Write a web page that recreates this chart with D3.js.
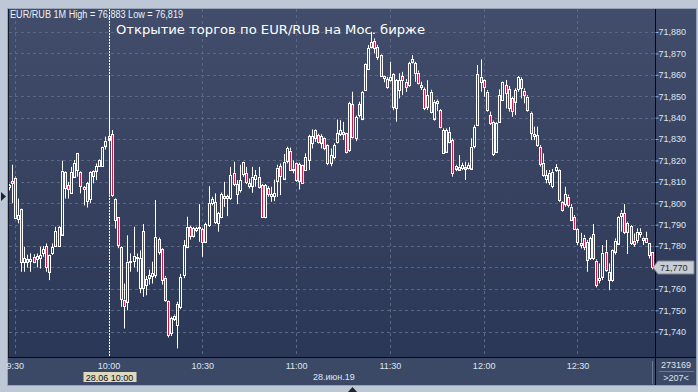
<!DOCTYPE html>
<html>
<head>
<meta charset="utf-8">
<script src="https://cdn.jsdelivr.net/npm/d3@7/dist/d3.min.js"></script>
<style>
html, body { margin: 0; padding: 0; background: #bdc7d6; }
svg { display: block; }
</style>
</head>
<body>
<svg id="chart" width="698" height="392"></svg>
<script>
// EUR/RUB, 1-минутные свечи, 28.06.2019 (9:28 .. 12:54)
const startTime = new Date(2019, 5, 28, 9, 28);

const opens = [
  71.8075, 71.8103, 71.812, 71.7924, 71.7973, 71.7724, 71.774, 71.773, 71.775, 71.7737,
  71.7742, 71.7766, 71.780, 71.768, 71.7768, 71.7801, 71.780, 71.7854, 71.8147, 71.8085,
  71.8049, 71.8124, 71.8233, 71.8147, 71.8074, 71.8093, 71.802, 71.8152, 71.8152, 71.8175,
  71.8174, 71.8269, 71.8295, 71.8322, 71.8022, 71.7934, 71.7797, 71.755, 71.754, 71.7725,
  71.773, 71.775, 71.7602, 71.787, 71.7618, 71.7652, 71.766, 71.7664, 71.7831, 71.7784,
  71.7653, 71.7543, 71.7392, 71.746, 71.743, 71.7516, 71.7664, 71.7797, 71.7887, 71.7848,
  71.7875, 71.7883, 71.788, 71.782, 71.7898, 71.800, 71.8004, 71.7905, 71.7934, 71.8033,
  71.8022, 71.8022, 71.8142, 71.8089, 71.8061, 71.8136, 71.8142, 71.8093, 71.808, 71.8113,
  71.8124, 71.8085, 71.7934, 71.8072, 71.8033, 71.803, 71.8105, 71.8173, 71.8116, 71.8194,
  71.8245, 71.8162, 71.8186, 71.8105, 71.8178, 71.8155, 71.8201, 71.8279, 71.8342, 71.8318,
  71.8283, 71.8307, 71.8272, 71.8189, 71.8214, 71.8282, 71.8323, 71.8334, 71.8329, 71.8248,
  71.8463, 71.8303, 71.8463, 71.8396, 71.8529, 71.8625, 71.8731, 71.8759, 71.8731, 71.8692,
  71.8583, 71.8579, 71.8575, 71.8603, 71.8443, 71.8529, 71.8594, 71.8568, 71.8552, 71.8661,
  71.8653, 71.861, 71.8552, 71.8532, 71.8451, 71.8521, 71.8397, 71.8469, 71.8436, 71.8342,
  71.8241, 71.8334, 71.8295, 71.8162, 71.8158, 71.8163, 71.8163, 71.8163, 71.8163, 71.8264,
  71.8366, 71.8591, 71.8576, 71.8521, 71.8412, 71.8381, 71.8241, 71.8381, 71.8482, 71.8552,
  71.8532, 71.849, 71.8475, 71.8532, 71.8579, 71.8526, 71.8498, 71.8423, 71.8323, 71.8319,
  71.8264, 71.8189, 71.8112, 71.8143, 71.808, 71.8152, 71.8155, 71.8007, 71.7996, 71.8031,
  71.7984, 71.7937, 71.7878, 71.7816, 71.784, 71.782, 71.7742, 71.7856, 71.7732, 71.7641,
  71.7657, 71.7774, 71.768, 71.7641, 71.7774, 71.7813, 71.794, 71.7953, 71.7867, 71.7894,
  71.7825, 71.7828, 71.7856, 71.784, 71.784, 71.7816, 71.7774
];

const highs = [
  71.809, 71.818, 71.8125, 71.8022, 71.7975, 71.7797, 71.776, 71.7766, 71.7762, 71.7765,
  71.7797, 71.780, 71.7812, 71.776, 71.7812, 71.789, 71.7893, 71.8199, 71.815, 71.810,
  71.817, 71.8202, 71.8235, 71.815, 71.808, 71.810, 71.815, 71.8155, 71.8186, 71.8205,
  71.8264, 71.8311, 71.860, 71.8342, 71.8025, 71.7935, 71.780, 71.7625, 71.785, 71.7766,
  71.789, 71.7765, 71.778, 71.7903, 71.766, 71.769, 71.7727, 71.8015, 71.784, 71.779,
  71.766, 71.7545, 71.747, 71.748, 71.754, 71.767, 71.7828, 71.7937, 71.7895, 71.789,
  71.789, 71.7996, 71.7885, 71.791, 71.808, 71.803, 71.8046, 71.796, 71.805, 71.810,
  71.804, 71.817, 71.8194, 71.8108, 71.818, 71.8194, 71.817, 71.8116, 71.817, 71.8155,
  71.817, 71.809, 71.809, 71.808, 71.8077, 71.811, 71.818, 71.8186, 71.823, 71.8264,
  71.826, 71.820, 71.819, 71.819, 71.818, 71.8233, 71.832, 71.8345, 71.8345, 71.8325,
  71.8323, 71.831, 71.8275, 71.8256, 71.828, 71.8391, 71.8388, 71.838, 71.833, 71.8474,
  71.8521, 71.841, 71.8474, 71.8525, 71.8653, 71.8739, 71.8801, 71.877, 71.874, 71.8695,
  71.8596, 71.859, 71.8661, 71.8607, 71.858, 71.8607, 71.8614, 71.858, 71.8661, 71.8692,
  71.8661, 71.862, 71.8568, 71.8541, 71.8575, 71.853, 71.8482, 71.8485, 71.844, 71.835,
  71.835, 71.8355, 71.8303, 71.818, 71.8225, 71.819, 71.8194, 71.819, 71.8303, 71.8366,
  71.8646, 71.8672, 71.8579, 71.8529, 71.8428, 71.8386, 71.838, 71.8532, 71.857, 71.8576,
  71.8548, 71.8498, 71.8537, 71.8594, 71.8588, 71.8537, 71.8505, 71.8428, 71.8358, 71.8358,
  71.8272, 71.8233, 71.8155, 71.8155, 71.816, 71.8183, 71.8158, 71.801, 71.8077, 71.804,
  71.7996, 71.7945, 71.7883, 71.7862, 71.7852, 71.7828, 71.7844, 71.7903, 71.7738, 71.7719,
  71.7805, 71.7828, 71.7719, 71.7784, 71.7836, 71.794, 71.7968, 71.7996, 71.7914, 71.7898,
  71.7859, 71.7883, 71.7883, 71.7844, 71.7867, 71.7816, 71.7774
];

const lows = [
  71.806, 71.800, 71.793, 71.7906, 71.768, 71.768, 71.770, 71.768, 71.772, 71.770,
  71.7695, 71.775, 71.768, 71.7641, 71.7758, 71.7797, 71.7797, 71.785, 71.8022, 71.8022,
  71.8046, 71.812, 71.8124, 71.8046, 71.799, 71.798, 71.800, 71.8093, 71.8108, 71.817,
  71.817, 71.8251, 71.804, 71.803, 71.7882, 71.779, 71.7516, 71.7415, 71.750, 71.768,
  71.770, 71.768, 71.758, 71.7563, 71.757, 71.762, 71.7625, 71.765, 71.776, 71.762,
  71.754, 71.7373, 71.738, 71.745, 71.7322, 71.7505, 71.765, 71.779, 71.783, 71.784,
  71.7865, 71.782, 71.775, 71.7815, 71.789, 71.799, 71.7903, 71.7867, 71.793, 71.7983,
  71.794, 71.8015, 71.808, 71.7996, 71.805, 71.8124, 71.809, 71.8069, 71.8049, 71.8077,
  71.8069, 71.7935, 71.793, 71.803, 71.8007, 71.801, 71.803, 71.8038, 71.811, 71.8186,
  71.8155, 71.814, 71.810, 71.8064, 71.809, 71.8152, 71.8155, 71.8256, 71.8287, 71.8279,
  71.8256, 71.8248, 71.8178, 71.8173, 71.8205, 71.8279, 71.8314, 71.8295, 71.8233, 71.824,
  71.8303, 71.829, 71.8401, 71.8388, 71.8525, 71.8622, 71.8723, 71.870, 71.867, 71.8591,
  71.8565, 71.8535, 71.8568, 71.8435, 71.8381, 71.849, 71.8505, 71.852, 71.8544, 71.8653,
  71.8568, 71.8555, 71.8529, 71.8435, 71.8435, 71.842, 71.8386, 71.843, 71.835, 71.823,
  71.8235, 71.828, 71.8124, 71.815, 71.8152, 71.8155, 71.8109, 71.8158, 71.8155, 71.8256,
  71.8361, 71.8521, 71.8498, 71.8428, 71.8366, 71.8221, 71.8235, 71.8376, 71.8478, 71.8443,
  71.8428, 71.8404, 71.8412, 71.8521, 71.849, 71.8467, 71.8428, 71.8295, 71.8295, 71.8264,
  71.8171, 71.8124, 71.8093, 71.8085, 71.807, 71.8147, 71.8007, 71.7961, 71.7984, 71.798,
  71.7919, 71.7875, 71.7805, 71.7789, 71.7781, 71.768, 71.7735, 71.7735, 71.7607, 71.7626,
  71.7641, 71.768, 71.7594, 71.7633, 71.776, 71.781, 71.7867, 71.7856, 71.7763, 71.7805,
  71.7797, 71.7813, 71.784, 71.7805, 71.7816, 71.7742, 71.7691
];

const closes = [
  71.8085, 71.8092, 71.7934, 71.7945, 71.7724, 71.7742, 71.7725, 71.774, 71.7725, 71.7753,
  71.7758, 71.7786, 71.7703, 71.7758, 71.7794, 71.7871, 71.789, 71.8152, 71.8074, 71.8065,
  71.8147, 71.8189, 71.8152, 71.8082, 71.8063, 71.8007, 71.8147, 71.8127, 71.8174, 71.8202,
  71.8261, 71.8292, 71.8315, 71.8038, 71.7924, 71.7801, 71.7555, 71.7524, 71.7727, 71.773,
  71.7755, 71.7745, 71.7742, 71.7602, 71.7644, 71.7664, 71.7672, 71.7843, 71.777, 71.7641,
  71.755, 71.7384, 71.7462, 71.7475, 71.753, 71.7656, 71.7804, 71.789, 71.7843, 71.7885,
  71.7883, 71.7887, 71.782, 71.7903, 71.8002, 71.802, 71.7909, 71.7953, 71.8043, 71.8022,
  71.8033, 71.8131, 71.809, 71.8043, 71.8108, 71.8191, 71.810, 71.8077, 71.8124, 71.8131,
  71.8077, 71.7937, 71.8085, 71.8043, 71.8043, 71.8046, 71.8167, 71.8124, 71.8194, 71.8256,
  71.8158, 71.8155, 71.8108, 71.8183, 71.8096, 71.8217, 71.8314, 71.8314, 71.8303, 71.8283,
  71.8314, 71.8261, 71.8186, 71.8225, 71.8272, 71.8326, 71.8342, 71.8323, 71.824, 71.8469,
  71.831, 71.8401, 71.8412, 71.8521, 71.865, 71.8723, 71.8754, 71.8728, 71.8684, 71.8594,
  71.8593, 71.8541, 71.8591, 71.8448, 71.8575, 71.8575, 71.8575, 71.8544, 71.8653, 71.8674,
  71.8607, 71.8563, 71.8541, 71.8443, 71.8505, 71.8428, 71.8475, 71.8479, 71.8355, 71.8233,
  71.8342, 71.8288, 71.8143, 71.8175, 71.8171, 71.8179, 71.8171, 71.8179, 71.8264, 71.8355,
  71.8604, 71.8568, 71.8545, 71.8436, 71.8373, 71.823, 71.8376, 71.8506, 71.8568, 71.8514,
  71.8443, 71.8428, 71.8529, 71.8588, 71.8537, 71.8506, 71.8436, 71.833, 71.8314, 71.8272,
  71.8183, 71.8132, 71.8132, 71.8101, 71.8147, 71.8168, 71.8015, 71.7971, 71.8043, 71.7992,
  71.7925, 71.7883, 71.7816, 71.7805, 71.7797, 71.7735, 71.7836, 71.7742, 71.7618, 71.7649,
  71.7769, 71.7688, 71.7641, 71.7781, 71.7825, 71.7937, 71.7956, 71.7862, 71.7909, 71.7813,
  71.7809, 71.7867, 71.7867, 71.7831, 71.782, 71.7758, 71.7703
];

const priceTicks = [71.74, 71.75, 71.76, 71.77, 71.78, 71.79, 71.80, 71.81, 71.82, 71.83, 71.84, 71.85, 71.86, 71.87, 71.88];
const timeTicks = ['9:30', '10:00', '10:30', '11:00', '11:30', '12:00', '12:30'];
const cursorTime = '10:00';
const lastPrice = 71.770;
const headerText = 'EUR/RUB 1M High = 76,883 Low = 76,819';
const titleText = 'Открытие торгов по EUR/RUB на Мос. бирже';
const dateText = '28.июн.19';
const cursorText = '28.06 10:00';
const volumeText = '273169';
const barsText = '>207<';

const ChartCandles = (() => {
    const FONT = '"Liberation Sans", Arial, sans-serif';
    const svg = d3.select('#chart');

    // рамка и области
    const panel = { left: 8, top: 9, right: 696, bottom: 385 };
    const plot = { left: 9, top: 9, right: 655, bottom: 357 };

    const parseTime = d3.timeParse('%d.%m.%Y %H:%M');
    const times = closes.map((_, i) => d3.timeMinute.offset(startTime, i));
    const tickDates = timeTicks.map(t => parseTime('28.06.2019 ' + t));

    const x = d3.scaleTime().domain([times[0], times[times.length - 1]]).range([8.6, 652.4]);
    const y = d3.scaleLinear().domain([71.74, 71.88]).range([331.7, 32]);

    const ru = d3.formatLocale({ decimal: ',', thousands: ' ', grouping: [3], currency: ['', ''] });
    const fmtPrice = ru.format('.3f');

    const defs = svg.append('defs');
    const grad = defs.append('linearGradient').attr('id', 'bg').attr('x1', 0).attr('y1', 0).attr('x2', 0).attr('y2', 1);
    grad.append('stop').attr('offset', '0%').attr('stop-color', '#414d6a');
    grad.append('stop').attr('offset', '100%').attr('stop-color', '#2b3756');
    defs.append('clipPath').attr('id', 'plotClip').append('rect')
        .attr('x', plot.left).attr('y', plot.top)
        .attr('width', plot.right - plot.left).attr('height', plot.bottom - plot.top);

    // фон панели
    svg.append('rect').attr('x', panel.left - 0.5).attr('y', panel.top - 0.5)
        .attr('width', panel.right - panel.left + 1).attr('height', panel.bottom - panel.top + 1)
        .attr('fill', 'none').attr('stroke', '#97a3b6');
    svg.append('rect').attr('x', panel.left).attr('y', panel.top)
        .attr('width', panel.right - panel.left).attr('height', plot.bottom - panel.top)
        .attr('fill', 'url(#bg)');
    svg.append('rect').attr('x', panel.left).attr('y', plot.bottom)
        .attr('width', panel.right - panel.left).attr('height', panel.bottom - plot.bottom)
        .attr('fill', '#3c4966');

    // сетка
    const grid = svg.append('g').attr('clip-path', 'url(#plotClip)');
    grid.selectAll('.hgrid').data(priceTicks).join('line')
        .attr('class', 'hgrid')
        .attr('x1', plot.left).attr('x2', plot.right)
        .attr('y1', d => Math.round(y(d)) + 0.5).attr('y2', d => Math.round(y(d)) + 0.5)
        .attr('stroke', '#5a6884').attr('stroke-dasharray', '3,3');
    grid.selectAll('.vgrid').data(tickDates).join('line')
        .attr('class', 'vgrid')
        .attr('x1', d => Math.round(x(d)) + 0.5).attr('x2', d => Math.round(x(d)) + 0.5)
        .attr('y1', plot.top).attr('y2', plot.bottom)
        .attr('stroke', '#5a6884').attr('stroke-dasharray', '3,3');

    // курсор на 10:00
    const cx = Math.round(x(parseTime('28.06.2019 ' + cursorTime))) + 0.5;
    svg.append('line').attr('x1', cx).attr('x2', cx).attr('y1', plot.top).attr('y2', plot.bottom)
        .attr('stroke', '#ffffff').attr('stroke-dasharray', '2,1');

    // свечи
    const data = times.map((t, i) => ({ t, o: opens[i], h: highs[i], l: lows[i], c: closes[i] }));
    const gc = svg.append('g').attr('clip-path', 'url(#plotClip)');
    const candle = gc.selectAll('.candle').data(data).join('g').attr('class', 'candle');

    candle.append('line') // верхняя тень
        .attr('x1', d => Math.round(x(d.t)) + 0.5).attr('x2', d => Math.round(x(d.t)) + 0.5)
        .attr('y1', d => y(d.h)).attr('y2', d => y(Math.max(d.o, d.c)))
        .attr('stroke', '#ffffff');
    candle.append('line') // нижняя тень
        .attr('x1', d => Math.round(x(d.t)) + 0.5).attr('x2', d => Math.round(x(d.t)) + 0.5)
        .attr('y1', d => y(Math.min(d.o, d.c))).attr('y2', d => y(d.l))
        .attr('stroke', '#ffffff');
    candle.append('rect')
        .attr('x', d => Math.round(x(d.t)) - 0.5)
        .attr('y', d => Math.round(y(Math.max(d.o, d.c))) + 0.5)
        .attr('width', 2)
        .attr('height', d => Math.max(1, Math.round(Math.abs(y(d.o) - y(d.c)))))
        .attr('fill', d => d.c < d.o ? '#e3143c' : 'none')
        .attr('stroke', '#ffffff');

    // рамочные линии
    svg.append('line').attr('x1', panel.left).attr('x2', panel.right).attr('y1', plot.bottom + 0.5).attr('y2', plot.bottom + 0.5)
        .attr('stroke', '#05070c');
    svg.append('line').attr('x1', plot.right + 0.5).attr('x2', plot.right + 0.5).attr('y1', panel.top).attr('y2', panel.bottom)
        .attr('stroke', '#05070c');
    svg.append('line').attr('x1', panel.left + 0.5).attr('x2', panel.left + 0.5).attr('y1', panel.top).attr('y2', plot.bottom)
        .attr('stroke', '#141a26');

    // ось цен справа
    const yAxis = svg.append('g').attr('transform', `translate(${plot.right + 0.5},0)`)
        .call(d3.axisRight(y).tickValues(priceTicks).tickFormat(fmtPrice).tickSize(3).tickPadding(0));
    yAxis.select('.domain').remove();
    yAxis.selectAll('line').attr('stroke', '#8db0ea');
    yAxis.selectAll('text').attr('fill', '#dde5f2').style('font', `9px ${FONT}`);

    // ось времени
    const xAxis = svg.append('g').attr('transform', `translate(0,${plot.bottom + 0.5})`)
        .call(d3.axisBottom(x).tickValues(tickDates).tickFormat(d3.timeFormat('%-H:%M')).tickSize(0).tickPadding(5));
    xAxis.select('.domain').remove();
    xAxis.selectAll('text').attr('fill', '#dde5f2').style('font', `9px ${FONT}`);

    // метка последней цены
    const py = Math.round(y(lastPrice)) + 0.5;
    svg.append('path')
        .attr('d', `M${plot.right - 2},${py} L${plot.right + 3},${py - 6.5} L${panel.right - 2},${py - 6.5} L${panel.right - 2},${py + 6.5} L${plot.right + 3},${py + 6.5} Z`)
        .attr('fill', '#c8ccd3').attr('stroke', '#7d8594');
    svg.append('text').attr('x', plot.right + 5).attr('y', py + 3.5)
        .attr('fill', '#2a2d33').style('font', `9px ${FONT}`).text(fmtPrice(lastPrice));

    // метка курсора на оси времени
    svg.append('rect').attr('x', cx - 26).attr('y', 372).attr('width', 53).attr('height', 10).attr('fill', '#dedabf');
    svg.append('text').attr('x', cx).attr('y', 380.5).attr('text-anchor', 'middle')
        .attr('fill', '#111111').style('font', `9px ${FONT}`).text(cursorText);

    svg.append('text').attr('x', 313).attr('y', 379.5)
        .attr('fill', '#dde5f2').style('font', `9px ${FONT}`).text(dateText);

    // правый нижний угол
    svg.append('line').attr('x1', 652.5).attr('x2', 652.5).attr('y1', 361).attr('y2', 384).attr('stroke', '#6c7894');
    svg.append('line').attr('x1', 659).attr('x2', 694).attr('y1', 371.5).attr('y2', 371.5).attr('stroke', '#6c7894');
    svg.append('text').attr('x', 676).attr('y', 368).attr('text-anchor', 'middle')
        .attr('fill', '#dde5f2').style('font', `9px ${FONT}`).text(volumeText);
    svg.append('text').attr('x', 676).attr('y', 380.5).attr('text-anchor', 'middle')
        .attr('fill', '#dde5f2').style('font', `9px ${FONT}`).text(barsText);

    // заголовки
    svg.append('text').attr('x', 10).attr('y', 17.5)
        .attr('fill', '#eef2fa').style('font', `10px ${FONT}`)
        .attr('textLength', 173).attr('lengthAdjust', 'spacingAndGlyphs').text(headerText);
    svg.append('text').attr('x', 116).attr('y', 34)
        .attr('fill', '#ffffff').style('font', '13px "DejaVu Sans", sans-serif')
        .attr('textLength', 309).attr('lengthAdjust', 'spacingAndGlyphs').text(titleText);

    // маленькие треугольники по краям
    svg.append('path').attr('d', 'M1,192 L6,196.5 L1,201 Z').attr('fill', '#1d2430');
    svg.append('path').attr('d', 'M348,392 L352.5,387 L357,392 Z').attr('fill', '#1d2430');

    return { svg, x, y };
})();
</script>
</body>
</html>
